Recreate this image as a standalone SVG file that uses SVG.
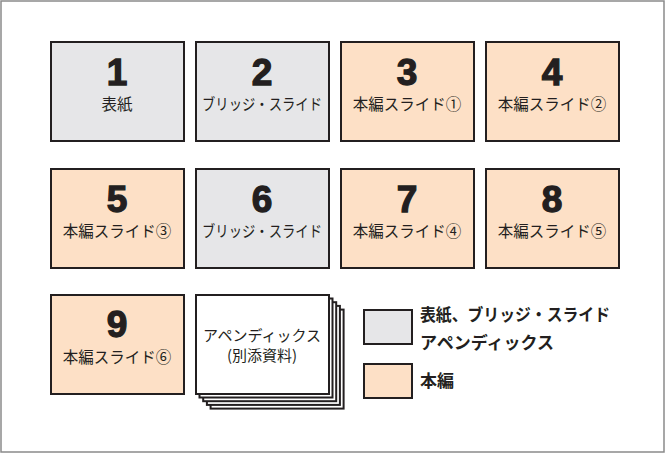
<svg xmlns="http://www.w3.org/2000/svg" width="670" height="455" viewBox="0 0 670 455">
<style>
.frame{fill:#fff;stroke:#8a8a8a;stroke-width:1.5}
.box{stroke:#231f20;stroke-width:2}
.g{fill:#e6e6e8}
.o{fill:#fde0c6}
.w{fill:#fff}
.num{font-family:"Liberation Sans","DejaVu Sans",sans-serif;font-weight:bold;font-size:37px;fill:#231f20;stroke:#231f20;stroke-width:1.3;text-anchor:middle}
.lbl{font-family:"Noto Sans CJK JP","Noto Sans",sans-serif;font-size:15.5px;fill:#231f20;text-anchor:middle}
.app{font-size:15px}
.leg{font-family:"Noto Sans CJK JP","Noto Sans",sans-serif;font-size:17px;font-weight:bold;fill:#231f20}
</style>
<rect class="frame" x="1" y="1" width="663" height="451"/>
<g id="node1"><rect class="box g" x="51" y="42" width="133" height="99"/><text class="num" x="117" y="85">1</text><text class="lbl" x="117" y="110">表紙</text></g>
<g id="node2"><rect class="box g" x="196" y="42" width="133" height="99"/><text class="num" x="262" y="85">2</text><text class="lbl" x="262" y="110" textLength="120" lengthAdjust="spacingAndGlyphs">ブリッジ・スライド</text></g>
<g id="node3"><rect class="box o" x="341" y="42" width="133" height="99"/><text class="num" x="407" y="85">3</text><text class="lbl" x="407" y="110">本編スライド①</text></g>
<g id="node4"><rect class="box o" x="486" y="42" width="133" height="99"/><text class="num" x="552" y="85">4</text><text class="lbl" x="552" y="110">本編スライド②</text></g>
<g id="node5"><rect class="box o" x="51" y="169" width="133" height="99"/><text class="num" x="117" y="212">5</text><text class="lbl" x="117" y="237">本編スライド③</text></g>
<g id="node6"><rect class="box g" x="196" y="169" width="133" height="99"/><text class="num" x="262" y="212">6</text><text class="lbl" x="262" y="237" textLength="120" lengthAdjust="spacingAndGlyphs">ブリッジ・スライド</text></g>
<g id="node7"><rect class="box o" x="341" y="169" width="133" height="99"/><text class="num" x="407" y="212">7</text><text class="lbl" x="407" y="237">本編スライド④</text></g>
<g id="node8"><rect class="box o" x="486" y="169" width="133" height="99"/><text class="num" x="552" y="212">8</text><text class="lbl" x="552" y="237">本編スライド⑤</text></g>
<g id="node9"><rect class="box o" x="51" y="295" width="133" height="99"/><text class="num" x="117" y="337">9</text><text class="lbl" x="117" y="363">本編スライド⑥</text></g>
<g id="appendix">
<rect class="box w" x="210.6" y="309.6" width="133" height="99" stroke-width="1.6"/>
<rect class="box w" x="206.9" y="305.9" width="133" height="99" stroke-width="1.6"/>
<rect class="box w" x="203.2" y="302.2" width="133" height="99" stroke-width="1.6"/>
<rect class="box w" x="199.5" y="298.5" width="133" height="99" stroke-width="1.6"/>
<rect class="box w" x="196" y="295" width="133" height="99"/>
<text class="lbl app" x="262" y="341">アペンディックス</text>
<text class="lbl app" x="262" y="361">(別添資料)</text>
</g>
<g id="legend">
<rect class="box g" x="364" y="310" width="48" height="34"/>
<rect class="box o" x="364" y="364" width="48" height="34"/>
<text class="leg" x="420" y="321" textLength="190" lengthAdjust="spacingAndGlyphs">表紙、ブリッジ・スライド</text>
<text class="leg" x="420" y="349">アペンディックス</text>
<text class="leg" x="420" y="387">本編</text>
</g>
<g id="connectors"/>
</svg>
